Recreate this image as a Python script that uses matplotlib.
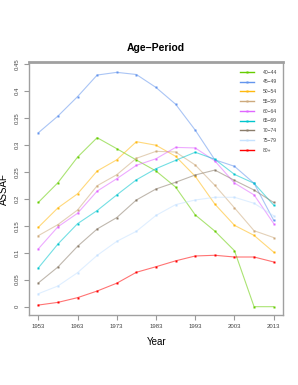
import matplotlib
matplotlib.use("Agg")
import matplotlib.pyplot as plt
from matplotlib.lines import Line2D

plt.rcParams['font.family'] = ['Liberation Sans', 'DejaVu Sans']

years = [1953, 1958, 1963, 1968, 1973, 1978, 1983, 1988, 1993, 1998, 2003, 2008, 2013]
labels = ["40\u221244", "45\u221249", "50\u221254", "55\u221259", "60\u221264",
          "65\u221269", "70\u221274", "75\u221279", "80+"]
colors = ["#66CD00", "#6495ED", "#FFB90F", "#CDAA7D", "#E066FF",
          "#00C5CD", "#8B7D6B", "#C6E2FF", "#FF0000"]

a40_44 = [0.193, 0.2296, 0.277, 0.313, 0.2926, 0.2717, 0.2513, 0.2215, 0.170, 0.140, 0.1037, 0.0, 0.0]
a45_49 = [0.322, 0.353, 0.389, 0.429, 0.434, 0.430, 0.406, 0.375, 0.327, 0.272, 0.260, 0.2285, 0.160]
a50_54 = [0.147, 0.183, 0.209, 0.2513, 0.272, 0.3056, 0.299, 0.2785, 0.2415, 0.190, 0.1507, 0.132, 0.101]
a55_59 = [0.1315, 0.152, 0.179, 0.224, 0.2444, 0.2748, 0.2877, 0.2865, 0.2624, 0.2248, 0.183, 0.1407, 0.128]
a60_64 = [0.107, 0.148, 0.173, 0.214, 0.237, 0.2618, 0.274, 0.295, 0.294, 0.270, 0.229, 0.207, 0.154]
a65_69 = [0.0717, 0.116, 0.1537, 0.178, 0.207, 0.235, 0.2556, 0.271, 0.286, 0.273, 0.245, 0.2285, 0.188]
a70_74 = [0.0439, 0.0735, 0.1118, 0.1439, 0.165, 0.1976, 0.218, 0.2304, 0.2439, 0.253, 0.234, 0.216, 0.193]
a75_79 = [0.024, 0.0383, 0.063, 0.095, 0.121, 0.1396, 0.169, 0.189, 0.1976, 0.2026, 0.2026, 0.1915, 0.1685]
a80p = [0.003, 0.008, 0.0167, 0.029, 0.0435, 0.0637, 0.074, 0.0849, 0.0939, 0.0952, 0.092, 0.092, 0.0828]
series = [a40_44, a45_49, a50_54, a55_59, a60_64, a65_69, a70_74, a75_79, a80p]

xticks = [1953, 1963, 1973, 1983, 1993, 2003, 2013]
yticks = [0, 0.05, 0.1, 0.15, 0.2, 0.25, 0.3, 0.35, 0.4, 0.45]
yticklabels = ["0", "0.05", "0.1", "0.15", "0.2", "0.25", "0.3", "0.35", "0.4", "0.45"]

fig = plt.figure(figsize=(2.98, 3.85), dpi=100)
ax = fig.add_axes([29 / 298, 1 - 315 / 385, (283.3 - 29) / 298, (315 - 62.3) / 385])

handles = []
for vals, c, lab in zip(series, colors, labels):
    ax.plot(years, vals, color=c, lw=0.8, alpha=0.55, zorder=2)
    ax.plot(years, vals, ls='none', marker='s', ms=2.1, mec='none', mfc=c, zorder=3)
    handles.append(Line2D([0], [0], color=c, lw=1.0, marker='s', ms=2.0,
                          mfc=c, mec='none'))

ax.set_xlim(1950.63, 2015.45)
ax.set_ylim(-0.0154, 0.4526)

ax.set_xticks(xticks)
ax.set_xticklabels([str(x) for x in xticks])
ax.set_yticks(yticks)
ax.set_yticklabels(yticklabels, rotation=90, va='center')
ax.tick_params(axis='both', labelsize=4.3, colors='#999999', labelcolor='#444444',
               length=3.5, width=0.8, pad=3)

for s in ax.spines.values():
    s.set_color('#a0a0a0')
    s.set_linewidth(1.0)
ax.spines['top'].set_linewidth(2.0)

ax.set_xlabel("Year", fontsize=7, labelpad=6)
ax.set_ylabel("ASSAF", fontsize=7, labelpad=4)
ax.set_title("Age\u2212Period", fontsize=7.5, fontweight='bold', pad=8)

leg = ax.legend(handles, labels, loc='upper right', frameon=False, fontsize=3.6,
                handlelength=2.8, handletextpad=1.8, labelspacing=0.95,
                bbox_to_anchor=(0.99, 0.985), borderaxespad=0.3)
for t in leg.get_texts():
    t.set_color('#444444')

fig.savefig("out.png", dpi=100)
